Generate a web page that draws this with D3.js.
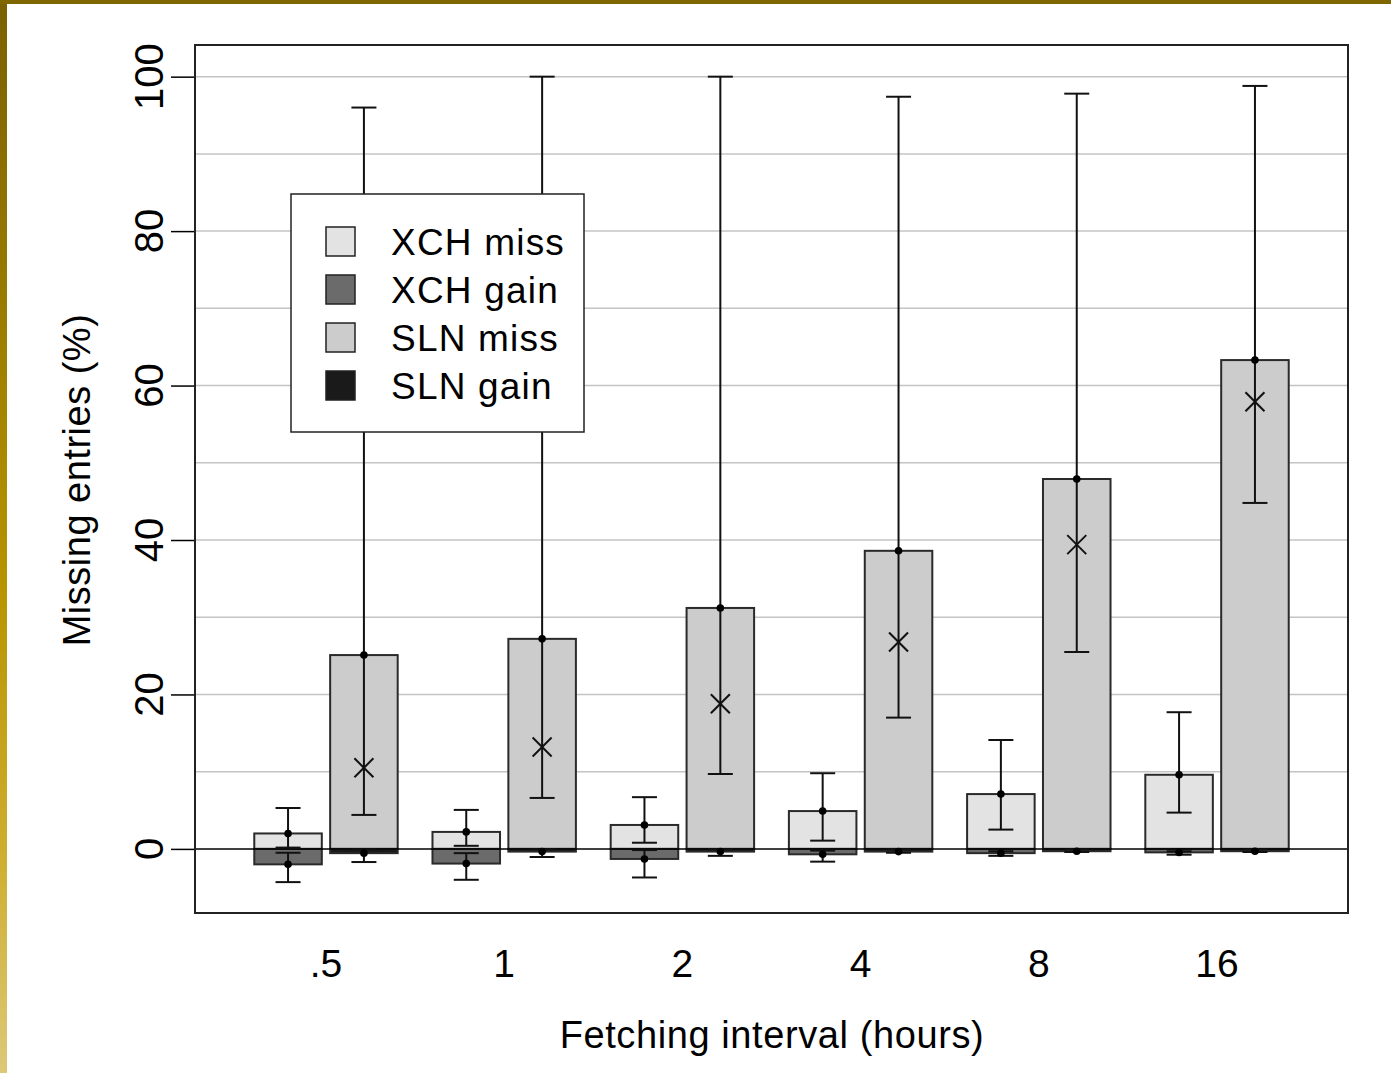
<!DOCTYPE html>
<html>
<head>
<meta charset="utf-8">
<script src="https://cdn.jsdelivr.net/npm/d3@7"></script>
<style>
  body { margin: 0; background: #fff; }
  svg { display: block; font-family: 'Liberation Sans', Arial, sans-serif; }
</style>
</head>
<body>
<div id="graf"></div>
<script>
const intervals = ['.5', '1', '2', '4', '8', '16']
const yTicks = [0, 20, 40, 60, 80, 100]
const gridTicks = [10, 20, 30, 40, 50, 60, 70, 80, 90, 100]

// XCH: miss above zero, gain below zero
const xchMiss = [2.0, 2.2, 3.1, 4.9, 7.1, 9.6]
const xchMissLow = [0.17, 0.4, 0.8, 1.07, 2.5, 4.7]
const xchMissHigh = [5.3, 5.05, 6.7, 9.8, 14.1, 17.7]
const xchGain = [-2.0, -1.9, -1.3, -0.7, -0.55, -0.45]
const xchGainLow = [-4.3, -4.0, -3.7, -1.65, -0.9, -0.75]
const xchGainHigh = [-0.5, -0.55, -0.15, -0.22, -0.3, -0.3]

// SLN
const slnMiss = [25.1, 27.2, 31.2, 38.6, 47.9, 63.3]
const slnMissMedian = [10.5, 13.2, 18.8, 26.8, 39.4, 57.9]
const slnMissLow = [4.4, 6.6, 9.7, 17.0, 25.5, 44.8]
const slnMissHigh = [96.0, 100, 100, 97.4, 97.8, 98.8]
const slnGain = [-0.55, -0.35, -0.35, -0.35, -0.3, -0.3]
const slnGainLow = [-1.7, -1.05, -0.9, -0.5, -0.4, -0.4]
const slnGainHigh = [-0.05, -0.05, -0.05, -0.05, -0.05, -0.05]

const legendItems = ['XCH miss', 'XCH gain', 'SLN miss', 'SLN gain']
const legendColors = ['#e3e3e3', '#6b6b6b', '#cccccc', '#1a1a1a']

const anchoTotal = 1391
const altoTotal = 1073
const plot = { left: 195, right: 1348, top: 45, bottom: 913 }

const svg = d3
  .select('#graf')
  .append('svg')
  .attr('width', anchoTotal)
  .attr('height', altoTotal)

// gold frame on the left and top
const grad = svg
  .append('defs')
  .append('linearGradient')
  .attr('id', 'gold')
  .attr('x1', 0).attr('y1', 0).attr('x2', 0).attr('y2', 1)
grad.append('stop').attr('offset', '0%').attr('stop-color', '#7a6000')
grad.append('stop').attr('offset', '55%').attr('stop-color', '#b89400')
grad.append('stop').attr('offset', '80%').attr('stop-color', '#cfae30')
grad.append('stop').attr('offset', '100%').attr('stop-color', '#dcc878')
svg.append('rect').attr('x', 0).attr('y', 0).attr('width', 7).attr('height', altoTotal).attr('fill', 'url(#gold)')
svg.append('rect').attr('x', 0).attr('y', 0).attr('width', anchoTotal).attr('height', 4).attr('fill', '#806600')

const x = d3
  .scalePoint()
  .domain(intervals)
  .range([plot.left, plot.right])
  .padding(0.735)
const sub = d3
  .scaleBand()
  .domain(['XCH', 'SLN'])
  .range([-75.5, 75.5])
  .paddingInner(0.11)
  .paddingOuter(0.05)
const y = d3.scaleLinear().domain([-8.3, 104.1]).range([plot.bottom, plot.top])

// grid
svg
  .append('g')
  .selectAll('line')
  .data(gridTicks)
  .join('line')
  .attr('x1', plot.left)
  .attr('x2', plot.right)
  .attr('y1', (d) => y(d))
  .attr('y2', (d) => y(d))
  .attr('stroke', '#c4c4c4')
  .attr('stroke-width', 1.5)

// y axis ticks + labels
const yAxis = svg
  .append('g')
  .attr('transform', `translate(${plot.left}, 0)`)
  .call(d3.axisLeft(y).tickValues(yTicks).tickSize(24).tickFormat(''))
yAxis.select('.domain').remove()
yAxis.selectAll('line').attr('stroke', '#000').attr('stroke-width', 1.5)
svg
  .append('g')
  .selectAll('text')
  .data(yTicks)
  .join('text')
  .attr('transform', (d) => `translate(163, ${y(d)}) rotate(-90)`)
  .attr('text-anchor', 'middle')
  .attr('font-size', 40)
  .text((d) => d)

// x tick labels (no tick marks)
svg
  .append('g')
  .selectAll('text')
  .data(intervals)
  .join('text')
  .attr('x', (d) => x(d))
  .attr('y', 977)
  .attr('text-anchor', 'middle')
  .attr('font-size', 39)
  .text((d) => d)

svg
  .append('text')
  .attr('x', 772)
  .attr('y', 1048)
  .attr('text-anchor', 'middle')
  .attr('font-size', 38)
  .attr('letter-spacing', 0.6)
  .text('Fetching interval (hours)')

svg
  .append('text')
  .attr('transform', 'translate(90, 480) rotate(-90)')
  .attr('text-anchor', 'middle')
  .attr('font-size', 38)
  .attr('letter-spacing', 0.5)
  .text('Missing entries (%)')

// bars
const bars = []
intervals.forEach((k, i) => {
  bars.push({ k, s: 'XCH', v: xchMiss[i], c: legendColors[0] })
  bars.push({ k, s: 'XCH', v: xchGain[i], c: legendColors[1] })
  bars.push({ k, s: 'SLN', v: slnMiss[i], c: legendColors[2] })
  bars.push({ k, s: 'SLN', v: slnGain[i], c: legendColors[3] })
})
svg
  .append('g')
  .selectAll('rect')
  .data(bars)
  .join('rect')
  .attr('x', (d) => x(d.k) + sub(d.s))
  .attr('width', sub.bandwidth())
  .attr('y', (d) => Math.min(y(d.v), y(0)))
  .attr('height', (d) => Math.abs(y(d.v) - y(0)))
  .attr('fill', (d) => d.c)
  .attr('stroke', '#2a2a2a')
  .attr('stroke-width', 2)

// zero line
svg
  .append('line')
  .attr('x1', plot.left)
  .attr('x2', plot.right)
  .attr('y1', y(0))
  .attr('y2', y(0))
  .attr('stroke', '#000')
  .attr('stroke-width', 1.5)

// error bars
const errs = []
intervals.forEach((k, i) => {
  errs.push({ k, s: 'XCH', lo: xchMissLow[i], hi: xchMissHigh[i], m: xchMiss[i] })
  errs.push({ k, s: 'XCH', lo: xchGainLow[i], hi: xchGainHigh[i], m: xchGain[i] })
  errs.push({ k, s: 'SLN', lo: slnMissLow[i], hi: slnMissHigh[i], m: slnMiss[i] })
  errs.push({ k, s: 'SLN', lo: slnGainLow[i], hi: slnGainHigh[i], m: slnGain[i] })
})
const cx = (d) => x(d.k) + sub(d.s) + sub.bandwidth() / 2
const eg = svg.append('g').attr('stroke', '#111').attr('stroke-width', 2)
eg.selectAll('.whisker')
  .data(errs)
  .join('line')
  .attr('x1', cx)
  .attr('x2', cx)
  .attr('y1', (d) => y(d.lo))
  .attr('y2', (d) => y(d.hi))
eg.selectAll('.caplo')
  .data(errs)
  .join('line')
  .attr('x1', (d) => cx(d) - 12.5)
  .attr('x2', (d) => cx(d) + 12.5)
  .attr('y1', (d) => y(d.lo))
  .attr('y2', (d) => y(d.lo))
eg.selectAll('.caphi')
  .data(errs)
  .join('line')
  .attr('x1', (d) => cx(d) - 12.5)
  .attr('x2', (d) => cx(d) + 12.5)
  .attr('y1', (d) => y(d.hi))
  .attr('y2', (d) => y(d.hi))
svg
  .append('g')
  .selectAll('circle')
  .data(errs)
  .join('circle')
  .attr('cx', cx)
  .attr('cy', (d) => y(d.m))
  .attr('r', 3.8)
  .attr('fill', '#000')

// median crosses on SLN miss
const xg = svg.append('g').attr('stroke', '#111').attr('stroke-width', 2)
intervals.forEach((k, i) => {
  const px = x(k) + sub('SLN') + sub.bandwidth() / 2
  const py = y(slnMissMedian[i])
  xg.append('line').attr('x1', px - 9.5).attr('x2', px + 9.5).attr('y1', py - 9.5).attr('y2', py + 9.5)
  xg.append('line').attr('x1', px - 9.5).attr('x2', px + 9.5).attr('y1', py + 9.5).attr('y2', py - 9.5)
})

// plot border
svg
  .append('rect')
  .attr('x', plot.left)
  .attr('y', plot.top)
  .attr('width', plot.right - plot.left)
  .attr('height', plot.bottom - plot.top)
  .attr('fill', 'none')
  .attr('stroke', '#222')
  .attr('stroke-width', 2)

// legend
const legend = svg.append('g').attr('transform', 'translate(291, 194)')
legend
  .append('rect')
  .attr('width', 293)
  .attr('height', 238)
  .attr('fill', '#fff')
  .attr('stroke', '#222')
  .attr('stroke-width', 1.5)
const items = legend
  .selectAll('.item')
  .data(legendItems)
  .join('g')
  .attr('transform', (d, i) => `translate(0, ${47.5 + i * 48})`)
items
  .append('rect')
  .attr('x', 35)
  .attr('y', -14.5)
  .attr('width', 29)
  .attr('height', 29)
  .attr('fill', (d, i) => legendColors[i])
  .attr('stroke', '#222')
  .attr('stroke-width', 1.5)
items
  .append('text')
  .attr('x', 100)
  .attr('y', 13.5)
  .attr('font-size', 37)
  .attr('letter-spacing', 1.2)
  .text((d) => d)
</script>
</body>
</html>
